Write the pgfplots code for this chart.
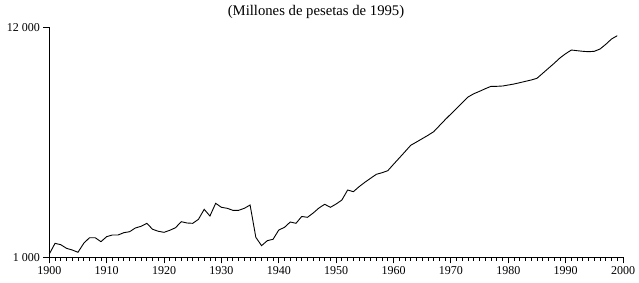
\documentclass[border=0pt]{standalone}
\usepackage{pgfplots}
\pgfplotsset{compat=1.18}
\usepackage{fontspec}
\setmainfont{Liberation Serif}
\pgfplotstableread{
year value
1900 1036
1901 1163
1902 1146
1903 1102
1904 1082
1905 1056
1906 1163
1907 1236
1908 1236
1909 1184
1910 1250
1911 1273
1912 1273
1913 1305
1914 1319
1915 1373
1916 1398
1917 1444
1918 1354
1919 1325
1920 1310
1921 1339
1922 1377
1923 1470
1924 1449
1925 1444
1926 1508
1927 1680
1928 1563
1929 1793
1930 1717
1931 1699
1932 1662
1933 1662
1934 1699
1935 1760
1936 1241
1937 1134
1938 1197
1939 1215
1940 1343
1941 1383
1942 1465
1943 1444
1944 1555
1945 1541
1946 1614
1947 1704
1948 1774
1949 1717
1950 1780
1951 1858
1952 2070
1953 2033
1954 2146
1955 2250
1956 2350
1957 2453
1958 2496
1959 2551
1960 2734
1961 2926
1962 3133
1963 3357
1964 3479
1965 3606
1966 3740
1967 3889
1968 4150
1969 4428
1970 4709
1971 5009
1972 5321
1973 5660
1974 5865
1975 6019
1976 6191
1977 6353
1978 6353
1979 6374
1980 6443
1981 6513
1982 6606
1983 6706
1984 6801
1985 6927
1986 7312
1987 7719
1988 8147
1989 8628
1990 9039
1991 9407
1992 9337
1993 9276
1994 9236
1995 9276
1996 9510
1997 10006
1998 10596
1999 10981
}\data
\begin{document}
\begin{tikzpicture}
\useasboundingbox (-49.3pt,-24.7pt) rectangle (589.7pt,257.3pt);
\begin{axis}[
  at={(0,0)}, anchor=south west,
  scale only axis,
  width=573.7pt, height=229.8pt,
  xmin=1900, xmax=2000,
  ymode=log, ymin=1000, ymax=12000,
  axis x line*=bottom, axis y line*=left,
  axis line style={-, line width=0.8pt},
  xtick={1900,1910,...,2000},
  minor x tick num=9,
  ytick={1000,12000},
  yticklabels={1\ 000,12\ 000},
  log ticks with fixed point,
  tick align=outside,
  major tick length=6pt,
  minor tick length=3.5pt,
  tick style={black, line width=0.8pt},
  xticklabel style={font=\fontsize{12}{13}\selectfont},
  yticklabel style={font=\fontsize{12}{13}\selectfont},
  /pgf/number format/assume math mode=true,
  /pgf/number format/1000 sep={},
  ytick pos=left,
  xtick pos=bottom,
  clip=false,
]
\addplot[black, line width=0.9pt] table[x=year, y=value] {\data};
\end{axis}
\node[font=\fontsize{14.7}{16}\selectfont] at (266.7pt,245.3pt) {(Millones de pesetas de 1995)};
\end{tikzpicture}
\end{document}
